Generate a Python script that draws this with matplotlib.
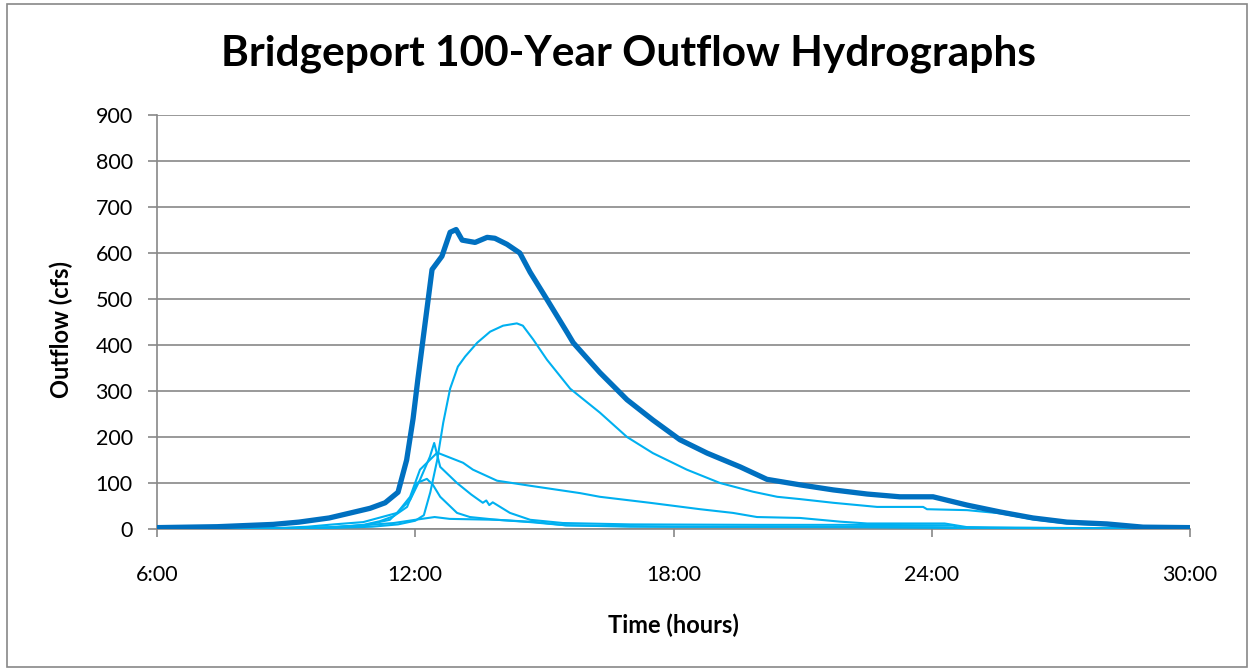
import matplotlib
matplotlib.use("Agg")
import matplotlib.pyplot as plt
from matplotlib.patches import Rectangle

# ---- data (hours since midnight, outflow cfs) ----
t_total = [6.0, 7.4, 8.7, 9.3, 10.0, 10.5, 10.95, 11.3, 11.6, 11.8, 11.95, 12.06, 12.39, 12.62,
           12.81, 12.95, 13.09, 13.39, 13.67, 13.85, 14.13, 14.43, 14.67, 15.06, 15.53, 15.67,
           16.29, 16.92, 17.52, 18.15, 18.78, 19.55, 20.17, 20.94, 21.71, 22.5, 23.26, 24.03,
           24.82, 25.59, 26.35, 27.14, 28.07, 28.91, 30.0]
q_total = [3, 5, 10, 15, 24, 35, 45, 57, 80, 150, 240, 325, 564, 593,
           645, 651, 628, 623, 634, 632, 619, 600, 558, 499, 427, 405,
           340, 281, 237, 194, 165, 135, 108, 96, 85, 76, 70, 70,
           52, 37, 24, 15, 11, 4, 3]

t_a = [6.0, 9.0, 10.0, 11.0, 11.6, 12.0, 12.2, 12.35, 12.51, 12.65, 12.81, 12.99, 13.16, 13.44,
       13.74, 14.04, 14.36, 14.5, 14.74, 15.06, 15.6, 16.29, 16.92, 17.52, 18.31, 19.08, 19.85,
       20.41, 20.94, 21.71, 22.73, 23.8, 23.89, 24.82, 25.6, 26.35, 27.14, 28.07, 28.9, 30.0]
q_a = [0, 1, 2, 5, 10, 18, 30, 80, 150, 231, 305, 353, 375, 405,
       429, 442, 447, 442, 412, 368, 305, 253, 200, 165, 129, 100, 81,
       70, 65, 57, 48, 48, 43, 41, 34, 21, 12, 8, 3, 2]

t_b = [6.0, 8.8, 9.5, 10.1, 10.79, 11.58, 11.88, 12.11, 12.51, 13.11, 13.34, 13.9, 14.67, 15.83,
       16.29, 17.45, 18.62, 19.38, 19.94, 20.94, 21.87, 22.5, 24.3, 24.82, 25.35, 30.0]
q_b = [0, 2, 5, 10, 15, 35, 70, 129, 166, 144, 129, 105, 94, 78,
       70, 57, 43, 35, 26, 24, 16, 12, 12, 4, 3, 1]

t_c = [6.0, 9.0, 10.0, 10.8, 11.41, 11.88, 12.11, 12.34, 12.44, 12.58, 12.97, 13.3, 13.57, 13.65,
       13.72, 13.8, 14.2, 14.67, 15.43, 17.0, 20.0, 22.0, 24.5, 24.6, 30.0]
q_c = [0, 1, 3, 8, 20, 63, 107, 157, 187, 135, 100, 75, 57, 62,
       52, 58, 35, 20, 13, 10, 9, 9, 8, 3, 1]

t_d = [6.0, 9.0, 10.0, 10.8, 11.18, 11.5, 11.81, 12.04, 12.27, 12.41, 12.58, 12.97, 13.27, 13.9,
       14.67, 15.5, 17.0, 22.0, 25.0, 30.0]
q_d = [0, 1, 3, 9, 17, 28, 48, 100, 109, 96, 70, 35, 26, 20,
       15, 8, 5, 4, 2, 1]

t_e = [6.0, 9.0, 10.0, 10.8, 11.5, 12.0, 12.45, 12.8, 13.9, 14.8, 15.5, 18.0, 24.0, 26.0, 30.0]
q_e = [0, 2, 4, 8, 13, 20, 26, 22, 20, 15, 8, 5, 4, 2, 1]

x_ticks = [6, 12, 18, 24, 30]
x_tick_labels = ["6:00", "12:00", "18:00", "24:00", "30:00"]
y_ticks = list(range(0, 1000, 100))

THICK = "#0070C0"
THIN = "#00B0F0"
GRID = "#888888"

plt.rcParams['font.family'] = ['Lato', 'DejaVu Sans']

W, H = 1249, 671
fig = plt.figure(figsize=(W / 100, H / 100), dpi=100)
ax = fig.add_axes([157 / W, 1 - 529 / H, (1190 - 157) / W, (529 - 115) / H])

for t, q in [(t_a, q_a), (t_b, q_b), (t_c, q_c), (t_d, q_d), (t_e, q_e)]:
    ax.plot(t, q, color=THIN, lw=1.5, solid_joinstyle='round', zorder=3)
ax.plot(t_total, q_total, color=THICK, lw=3.8, solid_joinstyle='round', zorder=4)

ax.set_xlim(6, 30)
ax.set_ylim(0, 900)
ax.set_xticks(x_ticks)
ax.set_xticklabels(x_tick_labels)
ax.set_yticks(y_ticks)
ax.grid(axis='y', color=GRID, lw=1.2)
ax.set_axisbelow(True)

for s in ['top', 'right']:
    ax.spines[s].set_visible(False)
for s in ['left', 'bottom']:
    ax.spines[s].set_color(GRID)
    ax.spines[s].set_linewidth(1.2)

ax.tick_params(axis='x', direction='out', length=6, width=1.2, color=GRID, pad=20,
               labelsize=15.5, labelcolor='black')
ax.tick_params(axis='y', direction='out', length=6.5, width=1.2, color=GRID, pad=11,
               labelsize=15.5, labelcolor='black')

fig.text(673 / W, 1 - 625 / H, "Time (hours)", ha='center', va='center',
         fontsize=17, fontweight='bold')
fig.text(61 / W, 1 - 330 / H, "Outflow (cfs)", ha='center', va='center', rotation=90,
         fontsize=17, fontweight='bold')
fig.text(628 / W, 1 - 54 / H, "Bridgeport 100-Year Outflow Hydrographs", ha='center',
         va='center', fontsize=30.5, fontweight='bold')

fig.add_artist(Rectangle((7 / W, 4 / H), (1247 - 7) / W, (667 - 4) / H, transform=fig.transFigure,
                         fill=False, edgecolor=GRID, lw=1.2))

fig.savefig("out.png", dpi=100)
